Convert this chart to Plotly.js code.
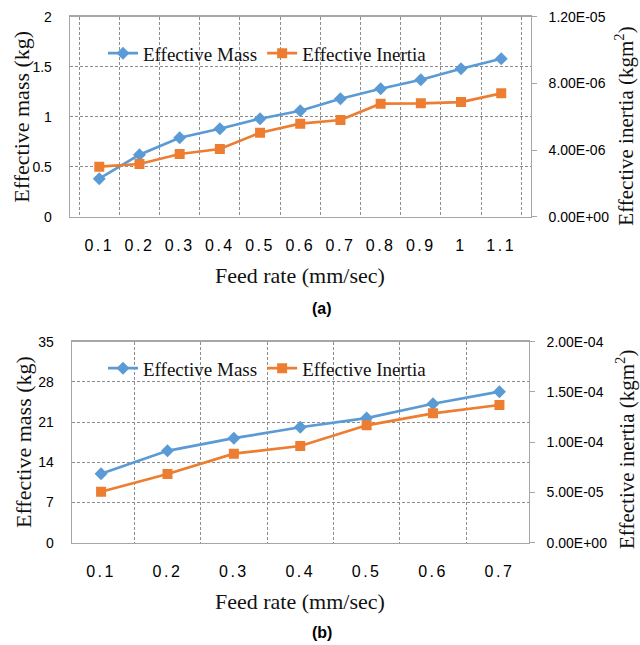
<!DOCTYPE html>
<html>
<head>
<meta charset="utf-8">
<script src="https://cdn.plot.ly/plotly-3.0.1.min.js"></script>
<style>
html,body{margin:0;padding:0;background:#fff;}
#chart{width:640px;height:645px;}
.xtick text,.x2tick text{letter-spacing:2.5px;}
</style>
</head>
<body>
<div id="chart"></div>
<script>
// ---- Data (a) ----
const feedA = ['0.1','0.2','0.3','0.4','0.5','0.6','0.7','0.8','0.9','1','1.1'];
const massA = [0.38,0.62,0.79,0.88,0.98,1.06,1.18,1.28,1.37,1.48,1.58];
const inertiaA = [3.0e-6,3.16e-6,3.76e-6,4.06e-6,5.04e-6,5.58e-6,5.8e-6,6.78e-6,6.8e-6,6.88e-6,7.4e-6];
const inertiaTickValsA = [0,4e-6,8e-6,1.2e-5];
const inertiaTickTextA = ['0.00E+00','4.00E-06','8.00E-06','1.20E-05'];

// ---- Data (b) ----
const feedB = ['0.1','0.2','0.3','0.4','0.5','0.6','0.7'];
const massB = [12.0,16.0,18.2,20.1,21.7,24.2,26.3];
const inertiaB = [5.07e-5,6.83e-5,8.86e-5,9.62e-5,1.168e-4,1.287e-4,1.37e-4];
const inertiaTickValsB = [0,5e-5,1e-4,1.5e-4,2e-4];
const inertiaTickTextB = ['0.00E+00','5.00E-05','1.00E-04','1.50E-04','2.00E-04'];

const seriesNames = ['Effective Mass','Effective Inertia'];
const blue = '#5B9BD5', orange = '#ED7D31';
const W = 640, H = 645;
const px = v => v / W;
const py = v => 1 - v / H;

const serif = 'Liberation Serif';
const sans = 'Liberation Sans';
const gridC = '#8c8c8c', lineC = '#a6a6a6';

const traces = [
  {x: feedA, y: massA, name: seriesNames[0], type: 'scatter', mode: 'lines+markers',
   line: {color: blue, width: 2.7}, marker: {symbol: 'diamond', size: 10, color: blue},
   xaxis: 'x', yaxis: 'y', legend: 'legend'},
  {x: feedA, y: inertiaA, name: seriesNames[1], type: 'scatter', mode: 'lines+markers',
   line: {color: orange, width: 2.7}, marker: {symbol: 'square', size: 10, color: orange},
   xaxis: 'x', yaxis: 'y2', legend: 'legend'},
  {x: feedB, y: massB, name: seriesNames[0], type: 'scatter', mode: 'lines+markers',
   line: {color: blue, width: 2.7}, marker: {symbol: 'diamond', size: 10, color: blue},
   xaxis: 'x2', yaxis: 'y3', legend: 'legend2'},
  {x: feedB, y: inertiaB, name: seriesNames[1], type: 'scatter', mode: 'lines+markers',
   line: {color: orange, width: 2.7}, marker: {symbol: 'square', size: 10, color: orange},
   xaxis: 'x2', yaxis: 'y4', legend: 'legend2'}
];

const xBase = {
  type: 'category', tickson: 'boundaries', showgrid: true, gridcolor: gridC, griddash: '3px,2px',
  gridwidth: 1, showline: true, linecolor: lineC, linewidth: 1.3, mirror: true, ticks: '',
  tickfont: {family: sans, size: 16, color: '#000'}, ticklabelstandoff: 14, zeroline: false
};
const yLeftBase = {
  showgrid: true, gridcolor: gridC, griddash: '3px,2px', gridwidth: 1, showline: true,
  linecolor: lineC, linewidth: 1.3, ticks: '', zeroline: false,
  tickfont: {family: sans, size: 14, color: '#000'}, ticklabelstandoff: 14
};
const yRightBase = {
  side: 'right', showgrid: false, showline: true, linecolor: lineC, linewidth: 1.3,
  ticks: 'outside', ticklen: 5, tickcolor: lineC, zeroline: false, tickmode: 'array',
  tickfont: {family: sans, size: 14, color: '#000'}, ticklabelstandoff: 9
};

const domX1 = [px(70), px(530.5)];
const domX2 = [px(72), px(528.5)];
const domY1 = [py(216.7), py(16.7)];
const domY2 = [py(542.7), py(341.7)];

function tFont() { return {family: serif, size: 22, color: '#111'}; }
function rFont() { return {family: serif, size: 21, color: '#111'}; }
function lFont() { return {family: sans, size: 16, color: '#000'}; }

const layout = {
  width: W, height: H,
  margin: {l: 0, r: 0, t: 0, b: 0},
  paper_bgcolor: '#fff', plot_bgcolor: '#fff',
  showlegend: true,
  xaxis: Object.assign({}, xBase, {domain: domX1, anchor: 'y'}),
  yaxis: Object.assign({}, yLeftBase, {domain: domY1, anchor: 'x', range: [0, 2], dtick: 0.5}),
  yaxis2: Object.assign({}, yRightBase, {overlaying: 'y', anchor: 'x', range: [0, 1.2e-5],
    tickvals: inertiaTickValsA, ticktext: inertiaTickTextA}),
  xaxis2: Object.assign({}, xBase, {domain: domX2, anchor: 'y3'}),
  yaxis3: Object.assign({}, yLeftBase, {domain: domY2, anchor: 'x2', range: [0, 35], dtick: 7}),
  yaxis4: Object.assign({}, yRightBase, {overlaying: 'y3', anchor: 'x2', range: [0, 2e-4],
    tickvals: inertiaTickValsB, ticktext: inertiaTickTextB}),
  legend: {orientation: 'h', x: px(103), y: py(53.3), xanchor: 'left', yanchor: 'middle',
    bgcolor: 'rgba(255,255,255,0)', font: {family: serif, size: 19, color: '#111'}, tracegroupgap: 0},
  legend2: {orientation: 'h', x: px(103), y: py(368.3), xanchor: 'left', yanchor: 'middle',
    bgcolor: 'rgba(255,255,255,0)', font: {family: serif, size: 19, color: '#111'}, tracegroupgap: 0},
  annotations: [
    {text: 'Effective mass (kg)', xref: 'paper', yref: 'paper', x: px(22), y: py(116.7),
     textangle: -90, showarrow: false, font: tFont(), xanchor: 'center', yanchor: 'middle'},
    {text: 'Effective inertia (kgm<sup>2</sup>)', xref: 'paper', yref: 'paper', x: px(625), y: py(126.7),
     textangle: -90, showarrow: false, font: rFont(), xanchor: 'center', yanchor: 'middle'},
    {text: 'Feed rate (mm/sec)', xref: 'paper', yref: 'paper', x: px(300), y: py(275),
     showarrow: false, font: tFont(), xanchor: 'center', yanchor: 'middle'},
    {text: '<b>(a)</b>', xref: 'paper', yref: 'paper', x: px(322), y: py(308),
     showarrow: false, font: lFont(), xanchor: 'center', yanchor: 'middle'},
    {text: 'Effective mass (kg)', xref: 'paper', yref: 'paper', x: px(23), y: py(442),
     textangle: -90, showarrow: false, font: tFont(), xanchor: 'center', yanchor: 'middle'},
    {text: 'Effective inertia (kgm<sup>2</sup>)', xref: 'paper', yref: 'paper', x: px(625), y: py(450),
     textangle: -90, showarrow: false, font: rFont(), xanchor: 'center', yanchor: 'middle'},
    {text: 'Feed rate (mm/sec)', xref: 'paper', yref: 'paper', x: px(300), y: py(601),
     showarrow: false, font: tFont(), xanchor: 'center', yanchor: 'middle'},
    {text: '<b>(b)</b>', xref: 'paper', yref: 'paper', x: px(322), y: py(632),
     showarrow: false, font: lFont(), xanchor: 'center', yanchor: 'middle'}
  ]
};

Plotly.newPlot('chart', traces, layout, {displayModeBar: false, staticPlot: true});
</script>
</body>
</html>
